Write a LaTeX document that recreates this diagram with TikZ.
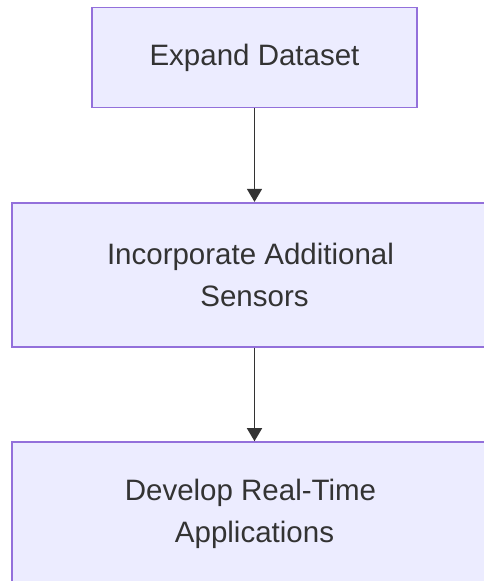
\documentclass[tikz,border=0pt]{standalone}
\usepackage{fontspec}
\setmainfont{Liberation Sans}
\usetikzlibrary{shapes,arrows.meta,positioning}
\definecolor{boxfill}{HTML}{ECECFF}
\definecolor{boxline}{HTML}{9370DB}
\definecolor{ink}{HTML}{333333}

\begin{document}
\begin{tikzpicture}[
        x=1pt, y=-1pt,
        node distance=93.5pt,
        box/.style={draw=boxline, fill=boxfill, line width=1.8pt, align=center, text=ink, font=\fontsize{29.5}{42.5}\selectfont, inner sep=0pt},
        wide/.style={box, minimum width=485pt, minimum height=144pt},
        flow/.style={-{Triangle[width=15pt,length=13pt]}, draw=ink, line width=1.4pt}
    ]
        \useasboundingbox (0,0) rectangle (483,581);

        \node[box, minimum width=325pt, minimum height=100pt] (expand) at (254.5,57.5) {\raisebox{-3pt}{Expand Dataset}};
        \node[wide, below=of expand] (sensors) {Incorporate Additional\kern8pt\\Sensors};
        \node[wide, below=of sensors] (realtime) {Develop Real-Time\kern8pt\\Applications};

        \draw[flow] (expand) -- (sensors);
        \draw[flow] (sensors) -- (realtime);

    \end{tikzpicture}
\end{document}
